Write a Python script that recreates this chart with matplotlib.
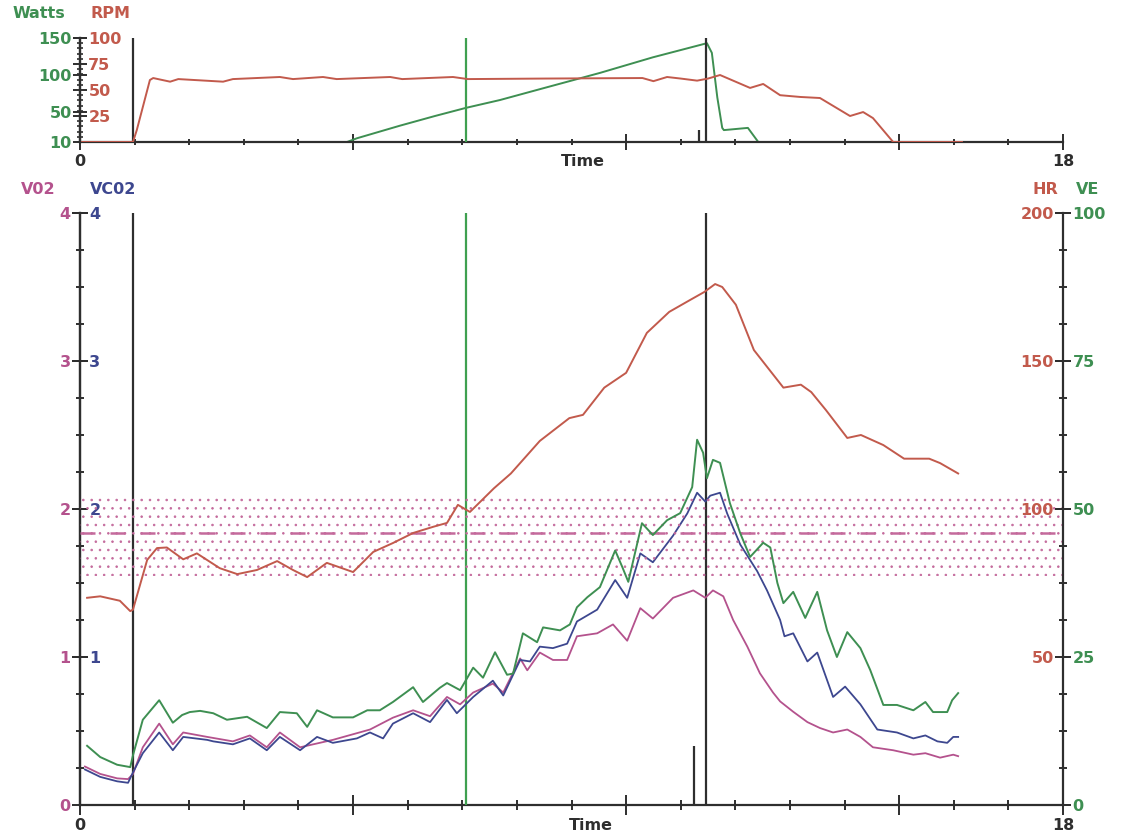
import numpy as np
import matplotlib
matplotlib.use('Agg')
import matplotlib.pyplot as plt
from matplotlib.ticker import MultipleLocator, FixedLocator

# ---- data (time in minutes) ----
hr_t = [0.13, 0.37, 0.73, 0.92, 0.97, 1.23, 1.41, 1.59, 1.89, 2.14, 2.56, 2.88, 3.24, 3.61,
        3.90, 4.16, 4.52, 5.00, 5.37, 5.73, 6.10, 6.47, 6.72, 6.92, 7.14, 7.58, 7.89, 8.42,
        8.96, 9.21, 9.60, 10.0, 10.38, 10.79, 11.17, 11.43, 11.63, 11.76, 12.01, 12.34,
        12.88, 13.20, 13.39, 13.66, 14.05, 14.30, 14.71, 15.09, 15.55, 15.75, 16.08]
hr = [70, 70.5, 69, 65.5, 66, 82.8, 86.8, 87, 83, 85, 80, 78, 79.4, 82.4,
      79.4, 77, 81.8, 78.7, 85.5, 88.5, 91.9, 94, 95.3, 101.4, 99, 107, 112, 123,
      130.7, 131.8, 141, 146, 159.5, 166.6, 170.6, 173.3, 176, 175, 169, 153.7,
      141, 142, 139.5, 133.4, 124, 125, 121.6, 117, 117, 115.5, 112]

ve_t = [0.13, 0.37, 0.68, 0.92, 0.97, 1.15, 1.45, 1.70, 1.87, 2.01, 2.20, 2.44, 2.69, 3.06,
        3.42, 3.66, 3.97, 4.16, 4.34, 4.63, 5.00, 5.26, 5.49, 5.73, 6.10, 6.28, 6.59, 6.72,
        6.96, 7.20, 7.38, 7.60, 7.82, 7.93, 8.11, 8.37, 8.48, 8.79, 8.97, 9.10, 9.29, 9.52,
        9.80, 9.93, 10.04, 10.29, 10.49, 10.75, 10.99, 11.21, 11.30, 11.41, 11.48, 11.59,
        11.72, 11.81, 11.90, 12.09, 12.27, 12.51, 12.64, 12.77, 12.88, 13.06, 13.28, 13.50,
        13.68, 13.86, 14.05, 14.29, 14.47, 14.71, 14.96, 15.26, 15.48, 15.62, 15.88, 15.97,
        16.08]
ve = [10.0, 8.1, 6.8, 6.4, 8.4, 14.4, 17.7, 13.9, 15.2, 15.7, 15.9, 15.5, 14.4, 14.9,
      13.0, 15.7, 15.5, 13.2, 16.0, 14.8, 14.8, 16.0, 16.0, 17.4, 19.9, 17.4, 19.8, 20.6,
      19.4, 23.2, 21.5, 25.8, 22.0, 22.2, 29.0, 27.5, 30.0, 29.5, 30.5, 33.4, 35.1, 36.8,
      43.0, 40.2, 37.7, 47.6, 45.6, 48.1, 49.3, 53.7, 61.7, 59.5, 55.2, 58.3,
      57.8, 54.4, 51.0, 45.9, 41.9, 44.3, 43.5, 37.5, 34.1, 36.0, 31.6, 36.0,
      29.5, 25.0, 29.2, 26.5, 22.8, 16.9, 16.9, 16.0, 17.4, 15.7, 15.7, 17.7,
      18.9]

vco2_t = [0.09, 0.37, 0.68, 0.88, 0.97, 1.15, 1.45, 1.70, 1.89, 2.33, 2.44, 2.80, 3.11, 3.42,
          3.66, 4.03, 4.34, 4.63, 5.07, 5.31, 5.55, 5.73, 6.10, 6.41, 6.72, 6.90, 7.20, 7.56,
          7.75, 8.06, 8.24, 8.42, 8.66, 8.92, 9.10, 9.47, 9.80, 10.02, 10.26, 10.49, 10.86,
          11.12, 11.30, 11.45, 11.54, 11.72, 11.85, 12.09, 12.40, 12.58, 12.82, 12.90, 13.06,
          13.32, 13.50, 13.79, 14.01, 14.29, 14.60, 14.96, 15.26, 15.48, 15.70, 15.88, 15.99,
          16.08]
vco2 = [0.24, 0.19, 0.16, 0.15, 0.22, 0.35, 0.49, 0.37, 0.46, 0.44, 0.43, 0.41, 0.45, 0.37,
        0.46, 0.37, 0.46, 0.42, 0.45, 0.49, 0.45, 0.55, 0.62, 0.56, 0.71, 0.62, 0.73, 0.84,
        0.74, 0.98, 0.97, 1.07, 1.06, 1.09, 1.24, 1.32, 1.52, 1.40, 1.70, 1.64, 1.82,
        1.97, 2.11, 2.05, 2.09, 2.11, 1.97, 1.76, 1.58, 1.45, 1.25, 1.14, 1.16,
        0.97, 1.03, 0.73, 0.80, 0.68, 0.51, 0.49, 0.45, 0.47, 0.43, 0.42, 0.46,
        0.46]

vo2_t = [0.09, 0.37, 0.68, 0.88, 0.97, 1.15, 1.45, 1.70, 1.89, 2.33, 2.80, 3.11, 3.42, 3.66,
         4.03, 4.63, 5.31, 5.73, 6.10, 6.41, 6.72, 6.96, 7.20, 7.56, 7.75, 8.06, 8.19, 8.42,
         8.66, 8.92, 9.10, 9.47, 9.76, 10.02, 10.26, 10.49, 10.86, 11.23, 11.45, 11.59, 11.78,
         11.96, 12.22, 12.45, 12.69, 12.82, 13.06, 13.32, 13.55, 13.79, 14.05, 14.29, 14.52,
         14.89, 15.26, 15.48, 15.75, 15.99, 16.08]
vo2 = [0.26, 0.21, 0.18, 0.175, 0.21, 0.39, 0.55, 0.41, 0.49, 0.46, 0.43, 0.47, 0.39, 0.49,
       0.39, 0.44, 0.51, 0.59, 0.64, 0.60, 0.73, 0.68, 0.76, 0.82, 0.76, 0.99, 0.91, 1.03,
       0.98, 0.98, 1.14, 1.16, 1.22, 1.11, 1.33, 1.26, 1.40, 1.45, 1.40, 1.45, 1.41,
       1.25, 1.07, 0.89, 0.76, 0.70, 0.63, 0.56, 0.52, 0.49, 0.51, 0.46, 0.39,
       0.37, 0.34, 0.35, 0.32, 0.34, 0.33]

rpm_t = [0.0, 0.97, 1.04, 1.28, 1.34, 1.65, 1.80, 2.62, 2.80, 3.66, 3.90, 4.45, 4.70, 5.68,
         5.90, 6.83, 7.10, 8.50, 10.30, 10.50, 10.75, 11.00, 11.30, 11.50, 11.72, 12.27,
         12.51, 12.82, 13.19, 13.55, 14.10, 14.34, 14.52, 14.89, 16.15]
rpm = [0, 0, 11.5, 59.6, 61.5, 58.0, 60.5, 58.0, 60.5, 62.5, 60.5, 62.5, 60.5, 62.5,
       60.5, 62.5, 60.5, 61.0, 61.5, 58.5, 62.5, 61.0, 59.0, 61.0, 64.4, 52.0,
       55.8, 45.0, 43.3, 42.3, 25.0, 28.8, 23.0, 0, 0]

watts_t = [4.63, 4.89, 5.07, 5.86, 6.50, 7.07, 7.69, 8.50, 9.52, 10.49, 11.48, 11.57, 11.67,
           11.76, 11.79, 12.23, 12.42]
watts = [10, 10, 15, 32, 45, 56, 66.5, 82.7, 103, 124, 143, 130, 70,
         29, 26, 29, 10]

hr_zone = (77.5, 105.5)
hr_target = 92

markers_black = [0.97, 11.47]
marker_green = 7.07

# ---- styling ----
c_hr = '#c25a4c'
c_ve = '#3e8f52'
c_vo2 = '#b4528d'
c_vco2 = '#3d478f'
c_ax = '#2e2e2e'
c_zone = '#c46a9c'
fnt = dict(family='DejaVu Sans', weight='bold', size=11.5)
plt.rcParams['hatch.linewidth'] = 0.6

fig = plt.figure(figsize=(11.23, 8.39), dpi=100)

# ================= lower panel =================
ax = fig.add_axes([80 / 1123, 1 - 805 / 839, 983 / 1123, 592 / 839])
ax.set_xlim(0, 18)
ax.set_ylim(0, 4)
for s in ['top', 'right']:
    ax.spines[s].set_visible(False)
for s in ['left', 'bottom']:
    ax.spines[s].set_color(c_ax)
    ax.spines[s].set_linewidth(1.6)

ax.yaxis.set_major_locator(FixedLocator([0, 1, 2, 3, 4]))
ax.yaxis.set_minor_locator(MultipleLocator(0.25))
ax.tick_params(axis='y', which='major', direction='inout', length=11.5, width=1.4,
               color=c_ax, labelcolor=c_vo2, pad=1)
ax.tick_params(axis='y', which='minor', direction='inout', length=6, width=1.4, color=c_ax)
ax.set_yticklabels(['0', '1', '2', '3', '4'], **fnt)

ax.xaxis.set_major_locator(FixedLocator([0, 5, 10, 15, 18]))
ax.xaxis.set_minor_locator(MultipleLocator(1))
ax.tick_params(axis='x', which='major', direction='inout', length=14, width=1.4, color=c_ax,
               labelbottom=False)
ax.tick_params(axis='x', which='minor', direction='inout', length=6.5, width=1.4, color=c_ax)

ax_vc = ax.twinx()
ax_vc.set_ylim(0, 4)
for s in ['top', 'left', 'bottom']:
    ax_vc.spines[s].set_visible(False)
ax_vc.spines['right'].set_position(('axes', 0))
ax_vc.spines['right'].set_color(c_ax)
ax_vc.spines['right'].set_linewidth(1.6)
ax_vc.set_yticks([1, 2, 3, 4])
ax_vc.set_yticklabels(['1', '2', '3', '4'], **fnt)
ax_vc.tick_params(axis='y', direction='inout', length=11.5, width=1.4, color=c_ax,
                  labelcolor=c_vco2, pad=1)

ax_hr = ax.twinx()
ax_hr.set_ylim(0, 200)
for s in ['top', 'right', 'bottom']:
    ax_hr.spines[s].set_visible(False)
ax_hr.spines['left'].set_position(('axes', 1))
ax_hr.spines['left'].set_color(c_ax)
ax_hr.spines['left'].set_linewidth(1.6)
ax_hr.yaxis.set_ticks_position('left')
ax_hr.yaxis.set_label_position('left')
ax_hr.set_yticks([0, 50, 100, 150, 200])
ax_hr.set_yticklabels(['', '50', '100', '150', '200'], **fnt)
ax_hr.yaxis.set_minor_locator(MultipleLocator(12.5))
ax_hr.tick_params(axis='y', which='major', direction='inout', length=11.5, width=1.4,
                  color=c_ax, labelcolor=c_hr, pad=1)
ax_hr.tick_params(axis='y', which='minor', direction='inout', length=6, width=1.4, color=c_ax)

ax_ve = ax.twinx()
ax_ve.set_ylim(0, 100)
for s in ['top', 'left', 'bottom', 'right']:
    ax_ve.spines[s].set_visible(False)
ax_ve.set_yticks([0, 25, 50, 75, 100])
ax_ve.set_yticklabels(['0', '25', '50', '75', '100'], **fnt)
ax_ve.tick_params(axis='y', direction='inout', length=11.5, width=1.4, color=c_ax,
                  labelcolor=c_ve, pad=1)

# target heart-rate zone
ax_hr.axhspan(hr_zone[0], hr_zone[1], facecolor='none', edgecolor=c_zone, hatch='..',
              linewidth=0, zorder=0)
ax_hr.axhline(hr_target, color=c_zone, lw=1.8, ls=(0, (6, 6)), zorder=1)

# event markers
for m in markers_black:
    ax.axvline(m, color=c_ax, lw=1.6, zorder=3)
ax.axvline(marker_green, color='#3fa050', lw=1.6, zorder=3)
ax.vlines(11.25, 0, 0.4, color=c_ax, lw=1.6, zorder=3)

ax.plot(vo2_t, vo2, color=c_vo2, lw=1.3, zorder=4)
ax.plot(vco2_t, vco2, color=c_vco2, lw=1.3, zorder=5)
ax_hr.plot(hr_t, hr, color=c_hr, lw=1.4)
ax_ve.plot(ve_t, ve, color=c_ve, lw=1.4)

tr = ax.get_xaxis_transform()
ax.text(0, -0.022, '0', transform=tr, ha='center', va='top', color=c_ax, **fnt)
ax.text(18, -0.022, '18', transform=tr, ha='center', va='top', color=c_ax, **fnt)
ax.text(9.35, -0.022, 'Time', transform=tr, ha='center', va='top', color=c_ax, **fnt)

fig.text(38 / 1123, 1 - 190 / 839, 'V02', ha='center', va='center', color=c_vo2, **fnt)
fig.text(113 / 1123, 1 - 190 / 839, 'VC02', ha='center', va='center', color=c_vco2, **fnt)
fig.text(1045 / 1123, 1 - 190 / 839, 'HR', ha='center', va='center', color=c_hr, **fnt)
fig.text(1088 / 1123, 1 - 190 / 839, 'VE', ha='center', va='center', color=c_ve, **fnt)

# ================= upper panel =================
axt = fig.add_axes([80 / 1123, 1 - 142 / 839, 983 / 1123, 104 / 839])
axt.set_xlim(0, 18)
axt.set_ylim(10, 150)
for s in ['top', 'right']:
    axt.spines[s].set_visible(False)
for s in ['left', 'bottom']:
    axt.spines[s].set_color(c_ax)
    axt.spines[s].set_linewidth(1.6)
axt.set_yticks([10, 50, 100, 150])
axt.set_yticklabels(['10', '50', '100', '150'], **fnt)
axt.tick_params(axis='y', direction='inout', length=10, width=1.4, color=c_ax,
                labelcolor=c_ve, pad=1)
axt.xaxis.set_major_locator(FixedLocator([0, 5, 10, 15, 18]))
axt.xaxis.set_minor_locator(MultipleLocator(1))
axt.tick_params(axis='x', which='major', direction='inout', length=12, width=1.4, color=c_ax,
                labelbottom=False)
axt.tick_params(axis='x', which='minor', direction='inout', length=5, width=1.4, color=c_ax)

axr = axt.twinx()
axr.set_ylim(0, 100)
for s in ['top', 'left', 'bottom']:
    axr.spines[s].set_visible(False)
axr.spines['right'].set_position(('axes', 0))
axr.spines['right'].set_color(c_ax)
axr.spines['right'].set_linewidth(1.6)
axr.set_yticks([25, 50, 75, 100])
axr.set_yticklabels(['25', '50', '75', '100'], **fnt)
axr.yaxis.set_minor_locator(MultipleLocator(5))
axr.tick_params(axis='y', which='major', direction='inout', length=10, width=1.4, color=c_ax,
                labelcolor=c_hr, pad=1)
axr.tick_params(axis='y', which='minor', direction='inout', length=5, width=1.2, color=c_ax)

for m in markers_black:
    axt.axvline(m, color=c_ax, lw=1.6, zorder=3)
axt.axvline(marker_green, color='#3fa050', lw=1.6, zorder=3)
axr.vlines(11.34, 0, 12, color=c_ax, lw=1.6)

axr.plot(rpm_t, rpm, color=c_hr, lw=1.4)
axt.plot(watts_t, watts, color=c_ve, lw=1.4)

trt = axt.get_xaxis_transform()
axt.text(0, -0.12, '0', transform=trt, ha='center', va='top', color=c_ax, **fnt)
axt.text(18, -0.12, '18', transform=trt, ha='center', va='top', color=c_ax, **fnt)
axt.text(9.2, -0.12, 'Time', transform=trt, ha='center', va='top', color=c_ax, **fnt)

fig.text(39 / 1123, 1 - 14 / 839, 'Watts', ha='center', va='center', color=c_ve, **fnt)
fig.text(111 / 1123, 1 - 14 / 839, 'RPM', ha='center', va='center', color=c_hr, **fnt)

fig.savefig('out.png', dpi=100)
